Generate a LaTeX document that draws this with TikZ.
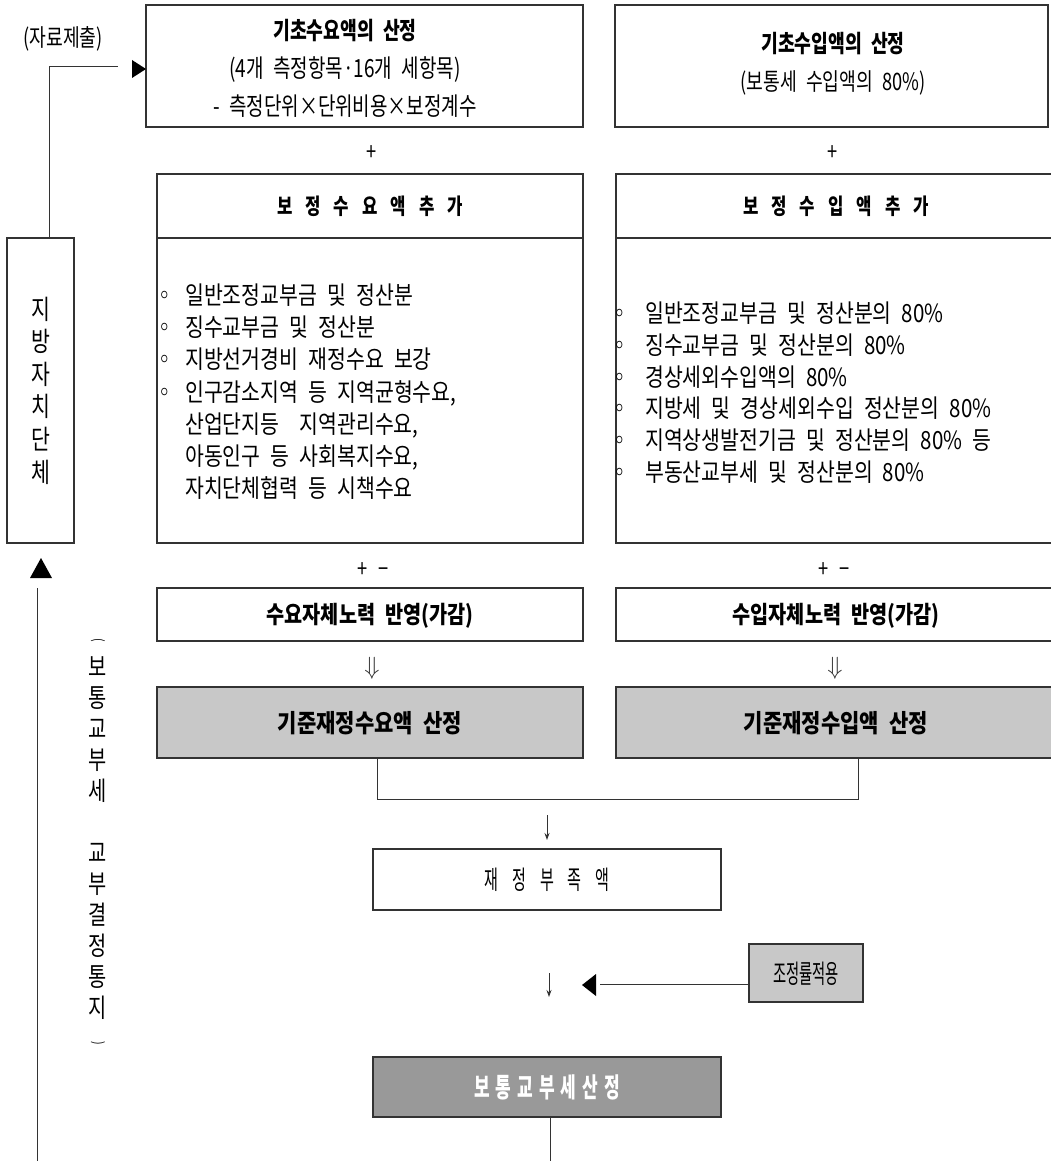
\documentclass[tikz,border=0pt]{standalone}
\usepackage{fontspec}
\setmainfont{Noto Sans CJK KR}[FakeStretch=0.76, WordSpace=2.2]
\newfontfamily\listfont{Noto Sans CJK KR}[FakeStretch=0.82, WordSpace=2.2]
\newfontfamily\effortfont{Noto Sans CJK KR}[FakeStretch=0.82, WordSpace=2.2]
\newfontfamily\stdfont{Noto Sans CJK KR}[FakeStretch=0.84, WordSpace=2.2]
\newfontfamily\narrowfont{Noto Sans CJK KR}[FakeStretch=0.55]
\newfontfamily\midfont{Noto Sans CJK KR}[FakeStretch=0.58]
\newfontfamily\finfont{Noto Sans CJK KR}[FakeStretch=0.63]
\usetikzlibrary{arrows.meta}
\definecolor{lgray}{HTML}{C8C8C8}
\definecolor{dgray}{HTML}{999999}
\definecolor{edge}{HTML}{333333}
\newcommand\gapA{\hspace{13pt}}
\newcommand\gapB{\hspace{14pt}}
\newcommand\gapC{\hspace{6pt}}
\newcommand\arcup{\rotatebox[origin=c]{-90}{(}}
\newcommand\arcdn{\rotatebox[origin=c]{-90}{)}}
\begin{document}
\begin{tikzpicture}[x=1pt,y=-1pt,
  box/.style={draw=edge, line width=1.2pt, rectangle, inner sep=0pt},
  ft/.style={inner sep=0pt, font=\fontsize{24}{28}\selectfont, text height=18pt, text depth=0pt},
  fb/.style={inner sep=0pt, font=\fontsize{24}{28}\selectfont\bfseries, text height=18pt, text depth=0pt},
  fl/.style={inner sep=0pt, font=\fontsize{25}{29}\listfont, text height=19pt, text depth=0pt},
  conn/.style={draw=edge, line width=1pt},
  tip/.style={fill=black},
]
\useasboundingbox (0,0) rectangle (1050,1161);

% top boxes
\node[box, minimum width=437pt, minimum height=122pt] (tl) at (364.5,66) {};
\node[fb] (tl1) at (345,31) {기초수요액의 산정};
\node[ft, font=\fontsize{25}{29}\selectfont] (tl2) at (345,69) {(4개 측정항목·16개 세항목)};
\node[ft, font=\fontsize{25}{29}\selectfont] (tl3) at (345,107) {- 측정단위×단위비용×보정계수};

\node[box, minimum width=433pt, minimum height=122pt] (tr) at (831.5,66) {};
\node[fb] (tr1) at (833,44) {기초수입액의 산정};
\node[ft] (tr2) at (833,82) {(보통세 수입액의 80\%)};

\node[ft] (plusL) at (372,152) {+};
\node[ft] (plusR) at (833,152) {+};

% headers
\node[box, fb, font=\fontsize{22}{26}\selectfont\bfseries, text height=16.5pt, minimum width=426pt, minimum height=64pt] (lh) at (370,206)
  {보\gapA 정\gapA 수\gapA 요\gapA 액\gapA 추\gapA 가};
\node[box, fb, font=\fontsize{22}{26}\selectfont\bfseries, text height=16.5pt, minimum width=440pt, minimum height=64pt] (rh) at (836,206)
  {보\gapA 정\gapA 수\gapA 입\gapA 액\gapA 추\gapA 가};

% list boxes
\node[box, minimum width=426pt, minimum height=305pt] (ll) at (370,390.5) {};
\node[box, minimum width=440pt, minimum height=305pt] (rl) at (836,390.5) {};

\foreach \t [count=\i] in {
  {\makebox[40pt][c]{◦}일반조정교부금 및 정산분},
  {\makebox[40pt][c]{◦}징수교부금 및 정산분},
  {\makebox[40pt][c]{◦}지방선거경비 재정수요 보강},
  {\makebox[40pt][c]{◦}인구감소지역 등 지역균형수요,},
  {\makebox[40pt][c]{}산업단지등 \ 지역관리수요,},
  {\makebox[40pt][c]{}아동인구 등 사회복지수요,},
  {\makebox[40pt][c]{}자치단체협력 등 시책수요}}
  \node[fl, anchor=west] (lli\i) at (145,{295+(\i-1)*32.2}) {\t};

\foreach \t [count=\i] in {
  {\makebox[50pt][c]{◦}일반조정교부금 및 정산분의 80\%},
  {\makebox[50pt][c]{◦}징수교부금 및 정산분의 80\%},
  {\makebox[50pt][c]{◦}경상세외수입액의 80\%},
  {\makebox[50pt][c]{◦}지방세 및 경상세외수입 정산분의 80\%},
  {\makebox[50pt][c]{◦}지역상생발전기금 및 정산분의 80\% 등},
  {\makebox[50pt][c]{◦}부동산교부세 및 정산분의 80\%}}
  \node[fl, anchor=west] (rli\i) at (595,{313+(\i-1)*31.8}) {\t};

\node[ft] (pmL) at (373,568) {+\hspace{10pt}−};
\node[ft] (pmR) at (834,568) {+\hspace{10pt}−};

% effort boxes
\node[box, fb, font=\fontsize{24}{28}\effortfont\bfseries, minimum width=426pt, minimum height=53pt] (la) at (370,614.5) {수요자체노력 반영(가감)};
\node[box, fb, font=\fontsize{24}{28}\effortfont\bfseries, minimum width=440pt, minimum height=53pt] (ra) at (836,614.5) {수입자체노력 반영(가감)};

\node[inner sep=0pt, font=\fontsize{24}{24}\selectfont, text=edge] (dL) at (372,668) {$\Downarrow$};
\node[inner sep=0pt, font=\fontsize{24}{24}\selectfont, text=edge] (dR) at (835,668) {$\Downarrow$};

% standard boxes
\node[box, fb, font=\fontsize{25}{29}\stdfont\bfseries, text height=19pt, fill=lgray, minimum width=426pt, minimum height=71pt] (lg) at (370,722.5) {기준재정수요액 산정};
\node[box, fb, font=\fontsize{25}{29}\stdfont\bfseries, text height=19pt, fill=lgray, minimum width=440pt, minimum height=71pt] (rg) at (836,722.5) {기준재정수입액 산정};

\coordinate (j1) at (377,799);
\coordinate (j2) at (858,799);
\draw[conn] ([xshift=7pt]lg.south) -- (j1) -- (j2) -- ([xshift=22pt]rg.south);

% deficit
\coordinate (a1s) at (547,815);
\coordinate (a1e) at (547,840);
\draw[conn, -{Stealth[length=7pt,width=5pt]}] (a1s) -- (a1e);

\node[box, ft, font=\fontsize{26}{30}\midfont, text height=20pt, minimum width=348pt, minimum height=61pt] (def) at (547,879.5)
  {재\gapB 정\gapB 부\gapB 족\gapB 액};

% adjustment
\node[box, ft, font=\fontsize{26}{30}\narrowfont, text height=20pt, fill=lgray, minimum width=114pt, minimum height=58pt] (adj) at (806,973) {조정률적용};
\coordinate (a2s) at (549,973);
\coordinate (a2e) at (549,997);
\draw[conn, -{Stealth[length=7pt,width=5pt]}] (a2s) -- (a2e);
\coordinate (adjEnd) at (600,984);
\draw[conn] ([yshift=-11pt]adj.west) -- (adjEnd);
\fill[tip] (582,985) -- (596,974) -- (596,996) -- cycle;

% final
\node[box, fb, font=\fontsize{27}{31}\finfont\bfseries, text height=21pt, fill=dgray, text=white, minimum width=348pt, minimum height=60pt] (fin) at (547,1087)
  {보\gapC 통\gapC 교\gapC 부\gapC 세\gapC 산\gapC 정};
\coordinate (finEnd) at (550,1175);
\draw[conn] ([xshift=3pt]fin.south) -- (finEnd);

% local government
\node[box, align=center, font=\fontsize{27}{32.6}\selectfont, minimum width=67pt, minimum height=305pt] (loc) at (40.5,390.5)
  {지\\방\\자\\치\\단\\체};
\coordinate (lp1) at (49,67);
\coordinate (lp2) at (118,67);
\draw[conn] ([xshift=8.5pt]loc.north) -- (lp1) -- (lp2);
\fill[tip] (132,60) -- (146,69) -- (132,78) -- cycle;
\node[ft] (src) at (63,38) {(자료제출)};

\fill[tip] (30,578) -- (41,558) -- (52,578) -- cycle;
\coordinate (b1) at (37,588);
\coordinate (b2) at (37,1175);
\draw[conn] (b1) -- (b2);

\node[align=center, inner sep=0pt, font=\fontsize{26}{31}\selectfont] (notice) at (98,843.5)
  {{\fontsize{14}{14}\selectfont\arcup}\\보\\통\\교\\부\\세\\\strut\\교\\부\\결\\정\\통\\지\\{\fontsize{14}{14}\selectfont\arcdn}};
\end{tikzpicture}
\end{document}
